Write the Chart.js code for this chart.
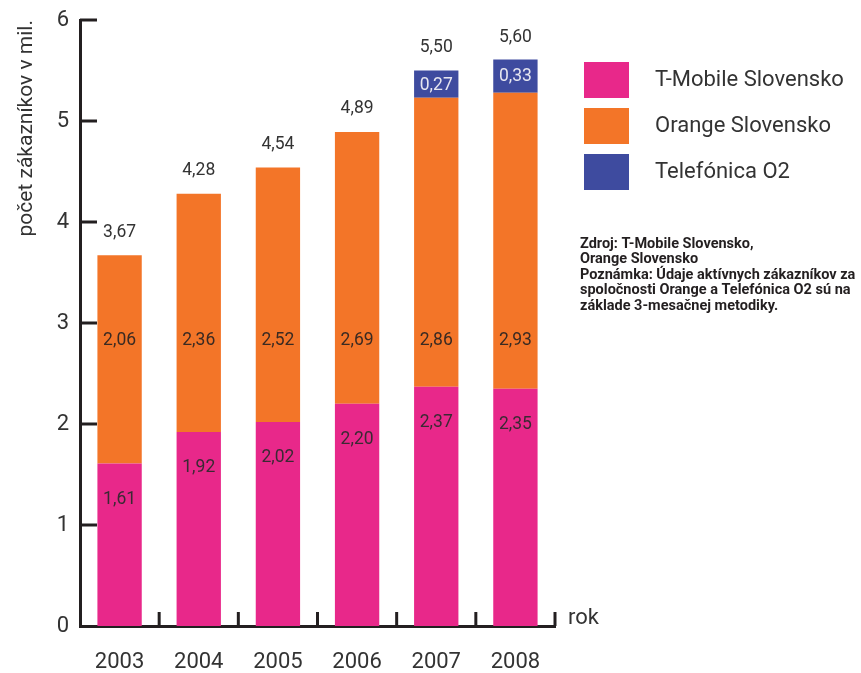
<!DOCTYPE html>
<html>
<head>
<meta charset="utf-8">
<script src="https://cdn.jsdelivr.net/npm/chart.js@4.4.0/dist/chart.umd.min.js"></script>
<style>
  html, body { margin: 0; padding: 0; background: #fff; }
  #wrap { width: 861px; height: 673px; position: relative; }
</style>
</head>
<body>
<div id="wrap"><canvas id="c" width="861" height="673"></canvas></div>
<script>
const categories = ['2003', '2004', '2005', '2006', '2007', '2008'];
const tmobile = [1.61, 1.92, 2.02, 2.20, 2.37, 2.35];
const orange = [2.06, 2.36, 2.52, 2.69, 2.86, 2.93];
const o2 = [null, null, null, null, 0.27, 0.33];
const totals = [3.67, 4.28, 4.54, 4.89, 5.50, 5.60];
const yTicks = [0, 1, 2, 3, 4, 5, 6];
const seriesNames = ['T-Mobile Slovensko', 'Orange Slovensko', 'Telefónica O2'];
const colors = ['#E8288A', '#F37528', '#3E4B9F'];
const noteLines = [
  'Zdroj: T-Mobile Slovensko,',
  'Orange Slovensko',
  'Poznámka: Údaje aktívnych zákazníkov za',
  'spoločnosti Orange a Telefónica O2 sú na',
  'základe 3-mesačnej metodiky.'
];
const FONT = 'Roboto, "Liberation Sans", sans-serif';
const fmt = v => v.toFixed(2).replace('.', ',');

const overlay = {
  id: 'overlay',
  afterDatasetsDraw(chart) {
    const ctx = chart.ctx;
    const x = chart.scales.x, y = chart.scales.y;
    const area = chart.chartArea;
    ctx.save();
    ctx.strokeStyle = '#231f20';
    ctx.lineWidth = 3;
    yTicks.forEach(v => {
      if (v === 0) return;
      const py = y.getPixelForValue(v);
      ctx.beginPath(); ctx.moveTo(area.left, py); ctx.lineTo(area.left + 17, py); ctx.stroke();
    });
    const step = x.getPixelForValue(1) - x.getPixelForValue(0);
    for (let i = 0; i < categories.length; i++) {
      const px = x.getPixelForValue(i) + step / 2;
      ctx.beginPath(); ctx.moveTo(px, area.bottom); ctx.lineTo(px, area.bottom - 14); ctx.stroke();
    }
    ctx.textAlign = 'center';
    ctx.textBaseline = 'middle';
    ctx.font = '17.5px ' + FONT;
    for (let i = 0; i < categories.length; i++) {
      const cx = x.getPixelForValue(i);
      const pinkTop = y.getPixelForValue(tmobile[i]);
      ctx.fillStyle = '#3a2a33';
      ctx.fillText(fmt(tmobile[i]), cx, pinkTop + 36);
      ctx.fillStyle = '#3a2a22';
      ctx.fillText(fmt(orange[i]), cx, y.getPixelForValue(2.83));
      const top = tmobile[i] + orange[i];
      if (o2[i] != null) {
        const a = y.getPixelForValue(top), b = y.getPixelForValue(top + o2[i]);
        ctx.fillStyle = '#e6e6f0';
        ctx.fillText(fmt(o2[i]), cx, (a + b) / 2 + 1);
      }
      ctx.fillStyle = '#333';
      ctx.fillText(fmt(totals[i]), cx, y.getPixelForValue(totals[i]) - 23);
    }
    ctx.textAlign = 'left';
    ctx.font = '22px ' + FONT;
    ctx.fillStyle = '#333';
    ctx.fillText('rok', area.right + 13, area.bottom - 8);
    for (let k = 0; k < 3; k++) {
      const ly = 62 + k * 46;
      ctx.fillStyle = colors[k];
      ctx.fillRect(584, ly, 45, 36);
      ctx.fillStyle = '#333';
      ctx.font = '22px ' + FONT;
      ctx.fillText(seriesNames[k], 655, ly + 18);
    }
    ctx.font = 'bold 14.5px ' + FONT;
    ctx.fillStyle = '#231f20';
    noteLines.forEach((t, j) => ctx.fillText(t, 580, 244 + j * 15.6));
    ctx.restore();
  }
};

new Chart(document.getElementById('c'), {
  type: 'bar',
  data: {
    labels: categories,
    datasets: [
      { label: seriesNames[0], data: tmobile, backgroundColor: colors[0] },
      { label: seriesNames[1], data: orange, backgroundColor: colors[1] },
      { label: seriesNames[2], data: o2, backgroundColor: colors[2] }
    ]
  },
  options: {
    responsive: false,
    animation: false,
    devicePixelRatio: 1,
    layout: { padding: { left: 0, top: 20, right: 306, bottom: 0 } },
    datasets: { bar: { barPercentage: 0.56, categoryPercentage: 1 } },
    plugins: { legend: { display: false }, tooltip: { enabled: false } },
    scales: {
      x: {
        stacked: true,
        grid: { display: false, drawTicks: false },
        border: { display: true, color: '#231f20', width: 3 },
        ticks: { font: { size: 22, family: FONT }, color: '#333', padding: 23 },
        afterFit(s) { s.height = 47; }
      },
      y: {
        stacked: true,
        min: 0, max: 6,
        grid: { display: false, drawTicks: false },
        border: { display: true, color: '#231f20', width: 3 },
        ticks: { stepSize: 1, font: { size: 22, family: FONT }, color: '#333', padding: 11 },
        title: { display: true, text: 'počet zákazníkov v mil.', align: 'end', color: '#333', font: { size: 21, family: FONT }, padding: { top: 14, bottom: 0 } },
        afterFit(s) { s.width = 80; s.paddingTop = 0; }
      }
    }
  },
  plugins: [overlay]
});
</script>
</body>
</html>
